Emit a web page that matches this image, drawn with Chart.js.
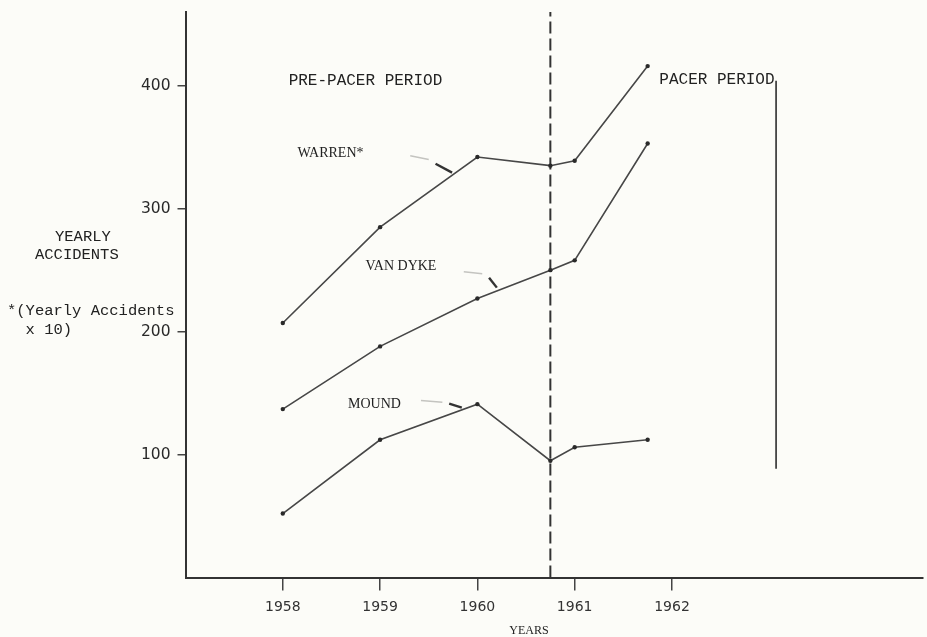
<!DOCTYPE html>
<html>
<head>
<meta charset="utf-8">
<title>Yearly accidents, pre-pacer and pacer period</title>
<script src="https://cdn.jsdelivr.net/npm/chart.js@4.4.0/dist/chart.umd.min.js"></script>
<style>
  html, body { margin: 0; padding: 0; background: #fcfcf8; }
  #wrap { width: 927px; height: 637px; }
</style>
</head>
<body>
<div id="wrap"><canvas id="chart" width="927" height="637"></canvas></div>
<script>
// data
const years = [1958, 1959, 1960, 1960.75, 1961, 1961.75];
const warren = [207, 285, 342, 335, 339, 416];
const vanDyke = [137, 188, 227, 250, 258, 353];
const mound = [52, 112, 141, 95, 106, 112];

const xTicks = [1958, 1959, 1960, 1961, 1962];
const yTicks = [100, 200, 300, 400];
const yMax = 460;

// pacer started part way through 1960
const pacerStart = 1960.75;
const pacerBar = { x: 1963.07, from: 88.5, to: 404 };

// little pointer marks next to the series names: faint stroke, then dark stroke
const pointers = [
    { faint: [1959.31, 343, 1959.50, 340], dark: [1959.57, 336.6, 1959.74, 329.3] },
    { faint: [1959.86, 248.8, 1960.05, 247], dark: [1960.12, 243.9, 1960.20, 235.8] },
    { faint: [1959.42, 143.9, 1959.64, 142.5], dark: [1959.71, 141.5, 1959.84, 138.2] }
];

// text inside the plot, in data units
const plotLabels = [
    { text: 'PRE-PACER PERIOD', x: 1958.06, y: 404, font: '16px "Liberation Mono"' },
    { text: 'PACER PERIOD', x: 1961.87, y: 405, font: '16px "Liberation Mono"' },
    { text: 'WARREN*', x: 1958.15, y: 344.7, font: '14px "Liberation Serif"' },
    { text: 'VAN DYKE', x: 1958.85, y: 253, font: '14px "Liberation Serif"' },
    { text: 'MOUND', x: 1958.67, y: 140.7, font: '14px "Liberation Serif"' }
];

function pts(values) {
    return values.map((v, i) => ({ x: years[i], y: v }));
}

function seg(a, color, width) {
    return {
        data: [{ x: a[0], y: a[1] }, { x: a[2], y: a[3] }],
        borderColor: color,
        borderWidth: width,
        pointRadius: 0
    };
}

const seriesStyle = {
    borderColor: '#474747',
    borderWidth: 1.6,
    pointRadius: 2.2,
    pointBackgroundColor: '#2a2a2a',
    pointBorderWidth: 0,
    tension: 0
};

const datasets = [
    Object.assign({ label: 'WARREN*', data: pts(warren) }, seriesStyle),
    Object.assign({ label: 'VAN DYKE', data: pts(vanDyke) }, seriesStyle),
    Object.assign({ label: 'MOUND', data: pts(mound) }, seriesStyle),
    {
        label: 'split',
        data: [{ x: pacerStart, y: 0 }, { x: pacerStart, y: yMax }],
        borderColor: '#333',
        borderWidth: 2,
        borderDash: [12, 5],
        pointRadius: 0
    },
    {
        label: 'bar',
        data: [{ x: pacerBar.x, y: pacerBar.from }, { x: pacerBar.x, y: pacerBar.to }],
        borderColor: '#444',
        borderWidth: 1.8,
        pointRadius: 0
    }
];
pointers.forEach(p => {
    datasets.push(seg(p.faint, '#c4c4c0', 1.5));
    datasets.push(seg(p.dark, '#333', 2.4));
});

// writes the labels inside the plot and the left hand axis notes
const textPlugin = {
    id: 'texts',
    afterDatasetsDraw(chart) {
        const ctx = chart.ctx;
        const xs = chart.scales.x, ys = chart.scales.y;
        ctx.save();
        ctx.fillStyle = '#222';
        ctx.textBaseline = 'middle';
        ctx.textAlign = 'left';
        plotLabels.forEach(l => {
            ctx.font = l.font;
            ctx.fillText(l.text, xs.getPixelForValue(l.x), ys.getPixelForValue(l.y));
        });

        ctx.font = '15.5px "Liberation Mono"';
        ctx.fillText('YEARLY', 55, 237);
        ctx.fillText('ACCIDENTS', 35, 255);
        ctx.fillText('*(Yearly Accidents', 7, 311);
        ctx.fillText('  x 10)', 7, 330);

        ctx.font = '12px "Liberation Serif"';
        ctx.textAlign = 'center';
        ctx.fillText('YEARS', 529, 631);
        ctx.restore();
    }
};

new Chart(document.getElementById('chart'), {
    type: 'line',
    data: { datasets: datasets },
    options: {
        responsive: false,
        animation: false,
        layout: { padding: { top: 12, right: 0, left: 0, bottom: 0 } },
        plugins: {
            legend: { display: false },
            tooltip: { enabled: false }
        },
        scales: {
            x: {
                type: 'linear',
                min: 1957,
                max: 1964.58,
                afterBuildTicks: scale => { scale.ticks = xTicks.map(v => ({ value: v })); },
                afterFit: scale => { scale.height = 59.5; },
                ticks: {
                    callback: v => String(v),
                    color: '#333',
                    font: { family: 'DejaVu Sans', size: 14 },
                    padding: 8,
                    maxRotation: 0,
                    autoSkip: false
                },
                grid: { drawOnChartArea: false, tickLength: 13, color: '#444', lineWidth: 1.5 },
                border: { color: '#333', width: 2 }
            },
            y: {
                min: 0,
                max: yMax,
                afterBuildTicks: scale => { scale.ticks = yTicks.map(v => ({ value: v })); },
                afterFit: scale => {
                    scale.width = 185.5;
                    scale.paddingTop = 0;
                    scale.paddingBottom = 0;
                },
                ticks: {
                    callback: v => String(v),
                    color: '#2a2a2a',
                    font: { family: 'DejaVu Sans', size: 15.5 },
                    padding: 7
                },
                grid: { drawOnChartArea: false, tickLength: 8, color: '#444', lineWidth: 1.5 },
                border: { color: '#333', width: 2 }
            }
        }
    },
    plugins: [textPlugin]
});
</script>
</body>
</html>
